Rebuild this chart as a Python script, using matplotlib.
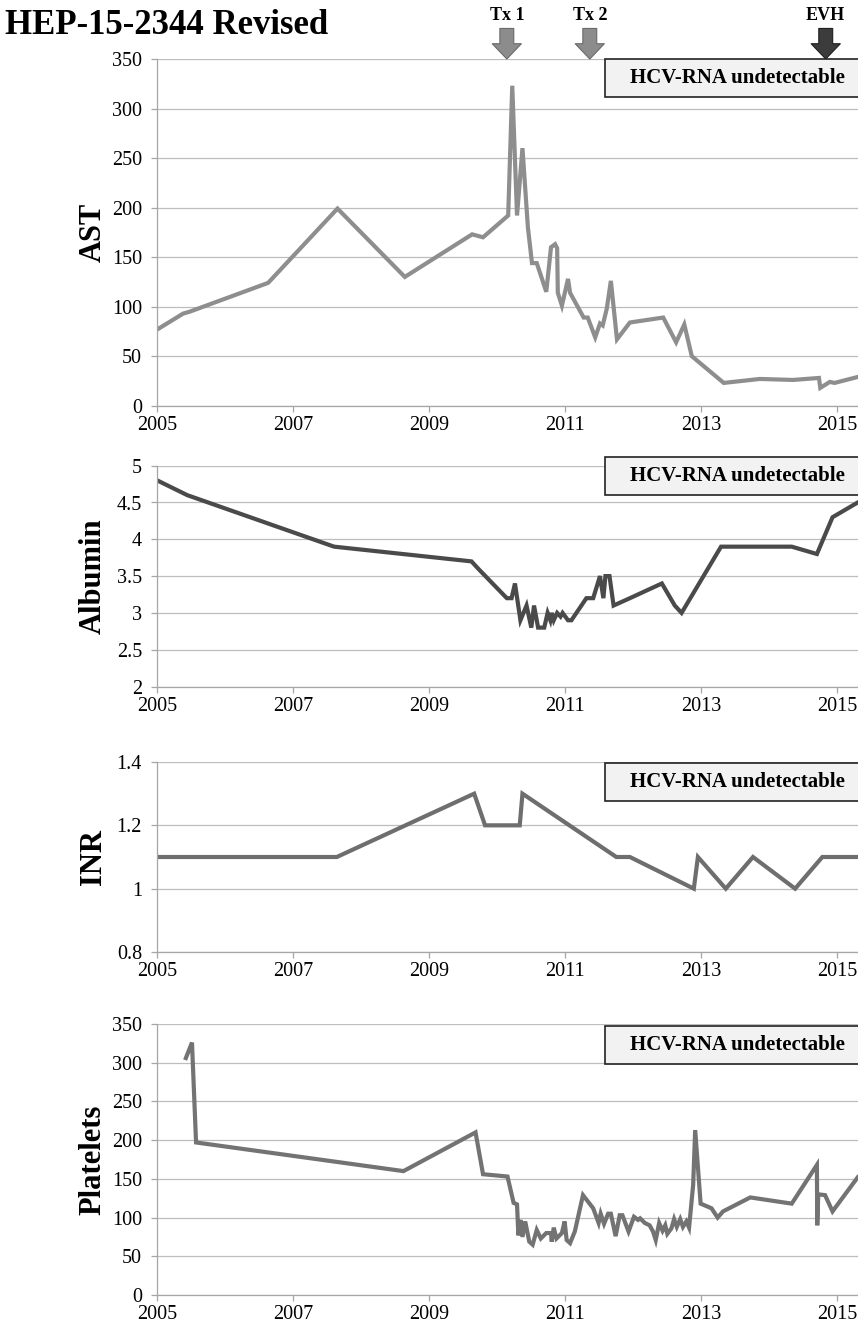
import numpy as np
import matplotlib.pyplot as plt
from matplotlib.patches import Rectangle

plt.rcParams['font.family'] = ['Liberation Serif', 'DejaVu Serif']

# lab values over time (decimal years)
ast_t = [2005.00, 2005.38, 2005.48, 2006.63, 2007.65, 2008.64, 2009.63, 2009.79, 2010.16,
         2010.22, 2010.29, 2010.37, 2010.45, 2010.51, 2010.58, 2010.72, 2010.79, 2010.85,
         2010.88, 2010.89, 2010.95, 2011.04, 2011.07, 2011.27, 2011.33, 2011.44, 2011.51,
         2011.55, 2011.61, 2011.67, 2011.76, 2011.95, 2012.44, 2012.63, 2012.75, 2012.86,
         2013.33, 2013.86, 2014.35, 2014.73, 2014.75, 2014.89, 2014.96, 2015.30]
ast_v = [77, 93, 95, 124, 199, 130, 173, 170, 192,
         323, 192, 260, 180, 144, 144, 115, 160, 163,
         159, 114, 101, 128, 114, 89, 89, 69, 83,
         81, 98, 126, 67, 84, 89, 64, 82, 50,
         23, 27, 26, 28, 18, 24, 23, 29]

alb_t = [2005.00, 2005.44, 2007.60, 2009.62, 2009.72, 2010.14, 2010.21, 2010.26, 2010.34,
         2010.43, 2010.50, 2010.54, 2010.60, 2010.69, 2010.74, 2010.78, 2010.80, 2010.83,
         2010.88, 2010.93, 2010.96, 2011.04, 2011.09, 2011.31, 2011.41, 2011.51, 2011.56,
         2011.59, 2011.65, 2011.71, 2011.95, 2012.42, 2012.61, 2012.71, 2013.29, 2014.33,
         2014.70, 2014.93, 2015.30]
alb_v = [4.8, 4.6, 3.9, 3.7, 3.6, 3.2, 3.2, 3.4, 2.9,
         3.1, 2.8, 3.1, 2.8, 2.8, 3.0, 2.9, 3.0, 2.9,
         3.0, 2.95, 3.0, 2.9, 2.9, 3.2, 3.2, 3.5, 3.2,
         3.5, 3.5, 3.1, 3.2, 3.4, 3.1, 3.0, 3.9, 3.9,
         3.8, 4.3, 4.5]

inr_t = [2005.00, 2007.64, 2009.66, 2009.82, 2010.33, 2010.37, 2011.75, 2011.95, 2012.89,
         2012.95, 2013.36, 2013.76, 2014.38, 2014.78, 2015.30]
inr_v = [1.1, 1.1, 1.3, 1.2, 1.2, 1.3, 1.1, 1.1, 1.0,
         1.1, 1.0, 1.1, 1.0, 1.1, 1.1]

plt_t = [2005.42, 2005.51, 2005.57, 2008.62, 2009.68, 2009.79, 2010.15, 2010.24, 2010.29,
         2010.31, 2010.34, 2010.37, 2010.41, 2010.47, 2010.52, 2010.58, 2010.64, 2010.72,
         2010.79, 2010.80, 2010.83, 2010.87, 2010.95, 2010.99, 2011.02, 2011.07, 2011.14,
         2011.26, 2011.41, 2011.49, 2011.52, 2011.57, 2011.63, 2011.67, 2011.74, 2011.80,
         2011.84, 2011.93, 2012.01, 2012.07, 2012.10, 2012.17, 2012.24, 2012.29, 2012.33,
         2012.38, 2012.43, 2012.47, 2012.50, 2012.56, 2012.60, 2012.64, 2012.69, 2012.73,
         2012.78, 2012.82, 2012.88, 2012.91, 2012.99, 2013.15, 2013.24, 2013.32, 2013.72,
         2014.33, 2014.70, 2014.705, 2014.72, 2014.82, 2014.93, 2015.30]
plt_v = [306, 326, 197, 160, 210, 156, 153, 119, 117,
         77, 97, 75, 95, 69, 65, 84, 73, 80,
         80, 69, 87, 73, 80, 95, 71, 67, 82,
         129, 112, 93, 105, 92, 105, 105, 76, 103,
         103, 82, 101, 97, 99, 93, 90, 82, 71,
         93, 83, 90, 79, 86, 98, 88, 98, 88,
         95, 87, 142, 213, 118, 112, 100, 108, 126,
         118, 168, 90, 130, 129, 108, 152]

years = [2005, 2007, 2009, 2011, 2013, 2015]
events = ['Tx 1', 'Tx 2', 'EVH']
event_t = [2010.14, 2011.36, 2014.83]
event_fc = ['#8c8c8c', '#8c8c8c', '#3c3c3c']
event_ec = ['#6a6a6a', '#6a6a6a', '#1e1e1e']

W, H = 858, 1336
fig = plt.figure(figsize=(W / 100, H / 100), dpi=100)

# (data, label, y limits, y ticks, colour, top px, bottom px, box top px)
panels = [
    (ast_t, ast_v, 'AST', (0, 350), np.arange(0, 351, 50), '#8e8e8e', 59, 405.7, 59),
    (alb_t, alb_v, 'Albumin', (2, 5), np.arange(2, 5.01, 0.5), '#4a4a4a', 465.7, 686.5, 457),
    (inr_t, inr_v, 'INR', (0.8, 1.4), np.arange(0.8, 1.41, 0.2), '#6e6e6e', 762, 952, 763),
    (plt_t, plt_v, 'Platelets', (0, 350), np.arange(0, 351, 50), '#737373', 1024, 1295, 1026),
]

axes = []
left = 157.3
for t, v, name, ylim, yt, col, top, bot, box_top in panels:
    ax = fig.add_axes([left / W, 1 - bot / H, (W - left) / W, (bot - top) / H])
    ax.plot(t, v, color=col, lw=3, solid_joinstyle='miter')
    ax.set_xlim(2005, 2005 + (W - left) / 68)
    ax.set_ylim(*ylim)
    ax.set_yticks(yt)
    ax.set_yticklabels(['{:g}'.format(round(y, 2)) for y in yt])
    ax.set_xticks(years)
    ax.set_xticklabels([str(y) for y in years])
    ax.grid(axis='y', color='#bdbdbd', lw=0.9)
    ax.set_axisbelow(True)
    for s in ['top', 'right']:
        ax.spines[s].set_visible(False)
    for s in ['left', 'bottom']:
        ax.spines[s].set_color('#a6a6a6')
        ax.spines[s].set_linewidth(0.9)
    ax.tick_params(axis='y', length=4, width=0.9, color='#a6a6a6', pad=7, labelsize=14.5)
    ax.tick_params(axis='x', length=4, width=0.9, color='#a6a6a6', pad=3.5, labelsize=14.5)
    ax.set_ylabel(name, fontsize=22, fontweight='bold', va='center')
    ax.yaxis.set_label_coords((93 - left) / (W - left), 0.5)

    # shaded note box, running off the right edge
    fig.add_artist(Rectangle((605 / W, 1 - (box_top + 38) / H), 0.4, 38 / H,
                             transform=fig.transFigure, fc='#f2f2f2', ec='#222222', lw=1.2))
    fig.text(737 / W, 1 - (box_top + 19) / H, 'HCV-RNA undetectable', ha='center', va='center',
             fontsize=15, fontweight='bold')
    axes.append(ax)

# treatment / event arrows above the top panel
ax0 = axes[0]
for name, t, fc, ec in zip(events, event_t, event_fc, event_ec):
    ax0.annotate('', xy=(t, 1.0), xycoords=('data', 'axes fraction'),
                 xytext=(0, 22), textcoords='offset points',
                 arrowprops=dict(arrowstyle='simple,head_length=0.55,head_width=1.05,tail_width=0.5',
                                 mutation_scale=20, fc=fc, ec=ec, lw=0.8, shrinkA=0, shrinkB=0))
    ax0.annotate(name, xy=(t, 1.0), xycoords=('data', 'axes fraction'),
                 xytext=(0, 31), textcoords='offset points', ha='center', va='center',
                 fontsize=13, fontweight='bold')

fig.text(5 / W, 1 - 26 / H, 'HEP-15-2344 Revised', ha='left', va='center',
         fontsize=25, fontweight='bold')

fig.savefig('out.png', dpi=100)
